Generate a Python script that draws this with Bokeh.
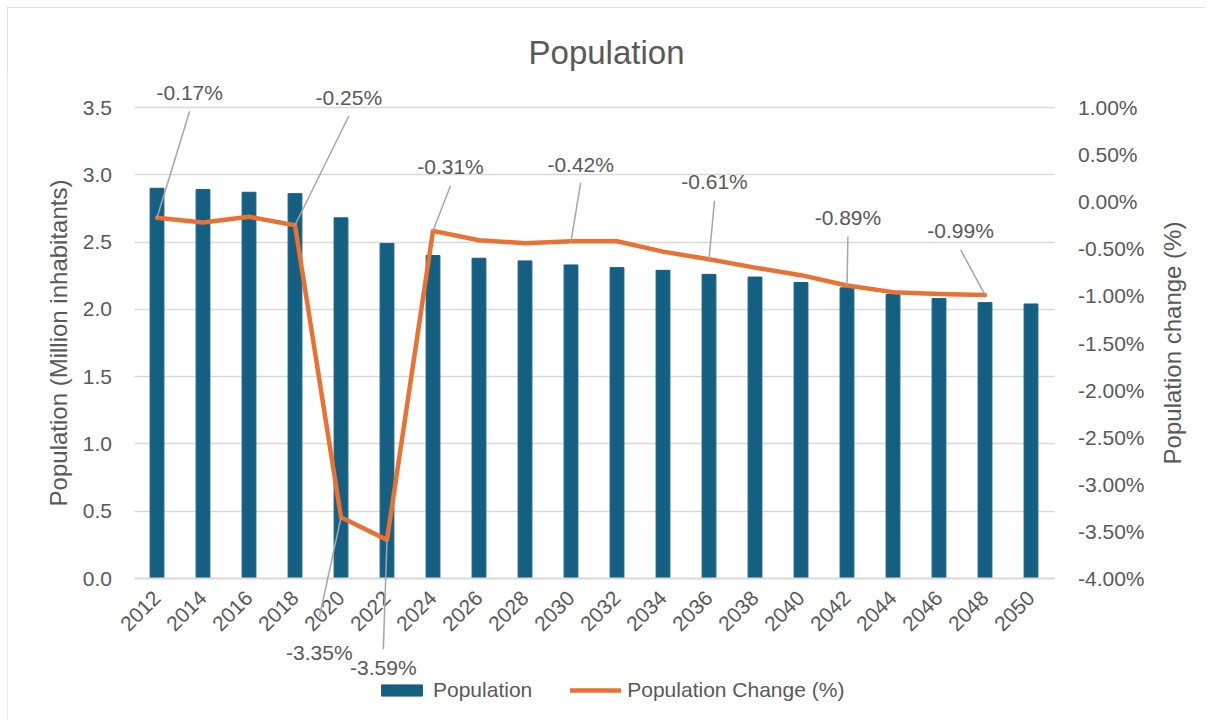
import math
from bokeh.plotting import figure
from bokeh.models import (Range1d, LinearAxis, FixedTicker, PrintfTickFormatter,
                          ColumnDataSource, LabelSet, Label, Legend, LegendItem, Arrow)
from bokeh.core.properties import value
from bokeh.embed import file_html
from bokeh.resources import INLINE

# ---------------- data ----------------
years = [str(y) for y in range(2012, 2051, 2)]
population = [2.90, 2.89, 2.87, 2.86, 2.68, 2.49, 2.40, 2.38, 2.36, 2.33,
              2.31, 2.29, 2.26, 2.24, 2.20, 2.16, 2.11, 2.08, 2.05, 2.04]
change_years = years[:-1]
change_pct = [-0.17, -0.22, -0.16, -0.25, -3.35, -3.59, -0.31, -0.41, -0.44, -0.42,
              -0.42, -0.53, -0.61, -0.70, -0.78, -0.89, -0.96, -0.98, -0.99]
left_ticks = [0, 0.5, 1.0, 1.5, 2.0, 2.5, 3.0, 3.5]
right_ticks = [-4.0, -3.5, -3.0, -2.5, -2.0, -1.5, -1.0, -0.5, 0.0, 0.5, 1.0]
label_years = ["2012", "2018", "2020", "2022", "2024", "2030", "2036", "2042", "2048"]
# label placement offsets (category units, percent units) - layout only
label_dx = [0.71, 1.17, -0.47, -0.08, 0.38, 0.21, 0.12, 0.02, -0.53]
label_dy = [1.33, 1.36, -1.44, -1.36, 0.68, 0.82, 0.82, 0.72, 0.68]
leader_gap = [0.2, 0.2, 0.38, 0.2, 0.2, 0.2, 0.2, 0.2, 0.2]

# ---------------- style / layout ----------------
BLUE = "#156082"
ORANGE = "#E97132"
GREY_TXT = "#595959"
GRID = "#d9d9d9"
LEADER = "#a6a6a6"
FONT = "Liberation Sans"

PAGE_L, PAGE_T = 7, 7
FIG_W, FIG_H = 1198, 713
FRAME_TOP = 75                       # page px of frame top
X0_PX, DX_PX = 156.5, 46.0           # page px of first category / spacing
Y0_PX, YTOP_PX = 578.0, 107.0        # page px of axis minimum / maximum
RIGHT_TITLE_OFFSET = 2.58            # category widths right of the plot area

x_start = (PAGE_L - X0_PX) / DX_PX
x_end = (PAGE_L + FIG_W - X0_PX) / DX_PX
lpx = (Y0_PX - YTOP_PX) / (left_ticks[-1] - left_ticks[0])
y_start = left_ticks[0] - (PAGE_T + FIG_H - Y0_PX) / lpx
y_end = left_ticks[0] + (Y0_PX - FRAME_TOP) / lpx
rpx = (Y0_PX - YTOP_PX) / (right_ticks[-1] - right_ticks[0])
r_start = right_ticks[0] - (PAGE_T + FIG_H - Y0_PX) / rpx
r_end = right_ticks[0] + (Y0_PX - FRAME_TOP) / rpx

n = len(years)
xs = list(range(n))

p = figure(width=FIG_W, height=FIG_H, x_range=Range1d(x_start, x_end),
           y_range=Range1d(y_start, y_end), output_backend="svg", toolbar_location=None,
           min_border_left=0, min_border_right=0, min_border_top=FRAME_TOP - PAGE_T,
           min_border_bottom=0, title="Population")
p.margin = (PAGE_T, 0, 0, PAGE_L)
p.styles = {"outline": "2px solid #d9d9d9", "outline-offset": "-2px"}
p.outline_line_color = None
p.extra_y_ranges = {"pct": Range1d(r_start, r_end)}

p.title.align = "center"
p.title.text_font = FONT
p.title.text_font_size = "33px"
p.title.text_font_style = "normal"
p.title.text_color = GREY_TXT

src = ColumnDataSource(dict(x=xs, pop=population))
bars = p.vbar(x="x", top="pop", width=0.3, source=src, fill_color=BLUE, line_color=BLUE)
line = p.line(x=xs[:len(change_pct)], y=change_pct, y_range_name="pct", line_color=ORANGE,
              line_width=4.5, line_join="round", line_cap="round")

# x axis fixed at y = 0
xa = p.xaxis[0]
xa.fixed_location = left_ticks[0]
xa.bounds = (-0.5, n - 0.5)
xa.ticker = FixedTicker(ticks=xs)
xa.major_label_overrides = {i: y for i, y in zip(xs, years)}
xa.axis_line_color = GRID
xa.axis_line_width = 2
xa.major_tick_line_color = None
xa.minor_tick_line_color = None
xa.major_label_orientation = math.pi / 4
xa.major_label_text_font = FONT
xa.major_label_text_font_size = "21px"
xa.major_label_text_color = GREY_TXT
xa.major_label_standoff = 10

# left axis
la = p.yaxis[0]
la.fixed_location = -0.5
la.bounds = (left_ticks[0], left_ticks[-1])
la.ticker = FixedTicker(ticks=left_ticks)
la.formatter = PrintfTickFormatter(format="%.1f")
la.axis_label = "Population (Million inhabitants)"

# right axis (its title is drawn as a rotated label reading bottom-to-top)
ra = LinearAxis(y_range_name="pct", ticker=FixedTicker(ticks=right_ticks),
                formatter=PrintfTickFormatter(format="%.2f%%"))
ra.fixed_location = n - 0.5
ra.bounds = (right_ticks[0], right_ticks[-1])
p.add_layout(ra, "right")

for ax in [la, ra]:
    ax.axis_line_color = None
    ax.major_tick_line_color = None
    ax.minor_tick_line_color = None
    ax.major_label_text_font = FONT
    ax.major_label_text_font_size = "21px"
    ax.major_label_text_color = GREY_TXT
    ax.axis_label_text_font = FONT
    ax.axis_label_text_font_size = "24px"
    ax.axis_label_text_font_style = "normal"
    ax.axis_label_text_color = GREY_TXT
la.major_label_standoff = 16
ra.major_label_standoff = 18
la.axis_label_standoff = 8

p.add_layout(Label(x=n - 0.5 + RIGHT_TITLE_OFFSET, y=(right_ticks[0] + right_ticks[-1]) / 2,
                   y_range_name="pct", text="Population change (%)", angle=math.pi / 2,
                   text_align="center", text_baseline="middle", text_font=FONT,
                   text_font_size="24px", text_color=GREY_TXT))

p.xgrid.grid_line_color = None
p.ygrid.grid_line_color = GRID
p.ygrid.grid_line_width = 1.5
p.ygrid.ticker = FixedTicker(ticks=left_ticks[1:])
try:
    p.ygrid.cross_bounds = (-0.5, n - 0.5)
except Exception:
    pass

# data labels with leader lines
idx = [years.index(y) for y in label_years]
vals = [change_pct[change_years.index(y)] for y in label_years]
tx = [i + d for i, d in zip(idx, label_dx)]
ty = [v + d for v, d in zip(vals, label_dy)]
texts = ["%.2f%%" % v for v in vals]
ly = [t - g if d > 0 else t + g for t, d, g in zip(ty, label_dy, leader_gap)]
lsrc = ColumnDataSource(dict(x=tx, y=ty, text=texts, px=idx, py=vals, ly=ly))
p.add_layout(Arrow(end=None, x_start="px", y_start="py", x_end="x", y_end="ly", source=lsrc,
                   line_color=LEADER, line_width=1.5, y_range_name="pct"))
p.add_layout(LabelSet(x="x", y="y", text="text", source=lsrc, y_range_name="pct",
                      text_align="center", text_baseline="middle", text_font=value(FONT),
                      text_font_size="21px", text_color=GREY_TXT))

legend = Legend(items=[LegendItem(label="Population", renderers=[bars]),
                       LegendItem(label="Population Change (%)", renderers=[line])],
                orientation="horizontal", location=(369, 18), border_line_color=None,
                background_fill_alpha=0, glyph_width=51, glyph_height=14, spacing=38,
                label_standoff=6, label_text_font=FONT, label_text_font_size="21px",
                label_text_color=GREY_TXT, margin=0, padding=4)
p.add_layout(legend, "center")

open("out.html", "w").write(file_html(p, INLINE))
